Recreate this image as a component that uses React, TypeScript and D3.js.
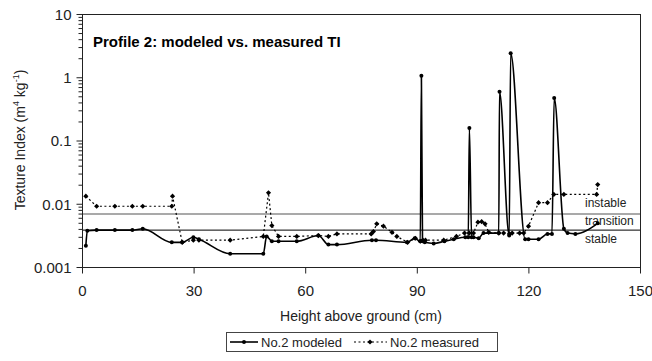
import React from "react";
import * as d3 from "d3";

const modeledX = [0.9, 1.3, 3.8, 8.7, 13.4, 16.2, 24.0, 26.8, 29.8, 31.3, 39.7, 48.6, 49.5, 50.9, 52.7, 57.6, 63.4, 66.1, 68.4, 77.8, 78.9, 87.2, 89.3, 90.8, 91.1, 91.4, 92.0, 94.4, 97.3, 99.8, 102.9, 103.7, 104.0, 104.6, 105.1, 106.5, 107.8, 111.9, 112.1, 114.7, 115.1, 119.0, 119.9, 122.6, 125.0, 126.2, 126.8, 129.4, 130.4, 132.5, 138.5];
const modeledY = [0.0022, 0.0038, 0.0039, 0.0039, 0.0039, 0.0041, 0.0025, 0.0025, 0.0030, 0.0028, 0.00165, 0.00165, 0.0031, 0.0026, 0.0026, 0.0026, 0.0032, 0.0023, 0.0023, 0.0027, 0.0027, 0.0025, 0.0029, 0.0026, 1.08, 0.0026, 0.0025, 0.0024, 0.0026, 0.0028, 0.0030, 0.0030, 0.16, 0.0030, 0.0030, 0.0029, 0.0035, 0.0035, 0.60, 0.0032, 2.45, 0.0028, 0.0028, 0.0028, 0.0034, 0.0034, 0.48, 0.0041, 0.0035, 0.0034, 0.0050];

const measuredX = [0.9, 3.8, 8.7, 13.4, 16.2, 24.0, 24.2, 26.8, 29.8, 31.3, 39.7, 48.6, 50.0, 50.9, 52.7, 57.6, 63.4, 66.1, 68.4, 77.6, 78.2, 79.1, 80.9, 83.2, 84.5, 87.4, 89.5, 90.8, 91.5, 92.2, 97.1, 100.5, 102.7, 104.0, 105.1, 106.3, 107.3, 108.2, 109.2, 111.9, 113.2, 114.8, 115.5, 117.5, 118.6, 119.9, 122.6, 125.0, 126.7, 129.4, 138.2, 138.5];
const measuredY = [0.0134, 0.0093, 0.0093, 0.0093, 0.0093, 0.0093, 0.0134, 0.0025, 0.0027, 0.0027, 0.0027, 0.0031, 0.0152, 0.0046, 0.0031, 0.0031, 0.0032, 0.0031, 0.0034, 0.0034, 0.0037, 0.0049, 0.0045, 0.0036, 0.0031, 0.0025, 0.0029, 0.0026, 0.0027, 0.0027, 0.0027, 0.0031, 0.0035, 0.0035, 0.0035, 0.0052, 0.0053, 0.0049, 0.0036, 0.0035, 0.0035, 0.0034, 0.0035, 0.0035, 0.0035, 0.0045, 0.0106, 0.0106, 0.0143, 0.0143, 0.0143, 0.0205];

const xTicks = [0, 30, 60, 90, 120, 150];
const yTicks = [0.001, 0.01, 0.1, 1, 10];
const yTickLabels = ["0.001", "0.01", "0.1", "1", "10"];
const thresholdValues = [0.007, 0.0039];
const zoneLabels = ["instable", "transition", "stable"];
const seriesNames = ["No.2 modeled", "No.2 measured"];
const titleText = "Profile 2: modeled vs. measured TI";
const xTitle = "Height above ground (cm)";

const FONT = "'Liberation Sans', Arial, sans-serif";

export default function App() {
  const W = 652, H = 361;
  const left = 82.5, right = 640.5, top = 14.5, bottom = 267.5;
  const x = d3.scaleLinear().domain([0, 150]).range([left, right]);
  const y = d3.scaleLog().domain([0.001, 10]).range([bottom, top]);

  const modeled = modeledX.map((v, i) => [v, modeledY[i]] as [number, number]);
  const measured = measuredX.map((v, i) => [v, measuredY[i]] as [number, number]);

  const lineM = d3.line<[number, number]>().x(d => x(d[0])).y(d => y(d[1])).curve(d3.curveMonotoneX);
  const lineS = d3.line<[number, number]>().x(d => x(d[0])).y(d => y(d[1]));

  const minor: number[] = [];
  [0.001, 0.01, 0.1, 1].forEach(d => { for (let k = 2; k <= 9; k++) minor.push(d * k); });

  const diamond = (cx: number, cy: number, s: number) => `M${cx},${cy - s}L${cx + s},${cy}L${cx},${cy + s}L${cx - s},${cy}Z`;

  const zoneY = [206.5, 225, 242.5];

  return (
    <svg width={W} height={H} style={{ position: "absolute", left: 0, top: 0, background: "#fff" }} fontFamily={FONT}>
      <rect x={0} y={0} width={W} height={H} fill="#fff" />
      {/* threshold lines */}
      <line x1={left} x2={right} y1={y(thresholdValues[0])} y2={y(thresholdValues[0])} stroke="#8c8c8c" strokeWidth={1.5} />
      <line x1={left} x2={right} y1={y(thresholdValues[1])} y2={y(thresholdValues[1])} stroke="#000" strokeWidth={1} />
      {/* frame */}
      <rect x={left} y={top} width={right - left} height={bottom - top} fill="none" stroke="#222" strokeWidth={1} />
      {/* y ticks */}
      {minor.map((v, i) => (
        <line key={"mn" + i} x1={left - 4} x2={left} y1={y(v)} y2={y(v)} stroke="#222" strokeWidth={1} />
      ))}
      {yTicks.map((v, i) => (
        <g key={"yt" + i}>
          <line x1={left - 6} x2={left} y1={y(v)} y2={y(v)} stroke="#222" strokeWidth={1} />
          <text x={left - 11} y={y(v)} dy="0.36em" textAnchor="end" fontSize={15} fill="#222">{yTickLabels[i]}</text>
        </g>
      ))}
      {/* x ticks */}
      {xTicks.map((v, i) => (
        <g key={"xt" + i}>
          <line x1={x(v)} x2={x(v)} y1={bottom} y2={bottom + 6} stroke="#222" strokeWidth={1} />
          <text x={x(v)} y={296} textAnchor="middle" fontSize={15} fill="#222">{v}</text>
        </g>
      ))}
      {/* axis titles */}
      <text x={361} y={321} textAnchor="middle" fontSize={14} fill="#222">{xTitle}</text>
      <text transform="translate(25,140) rotate(-90)" textAnchor="middle" fontSize={14} fill="#222">
        Texture Index (m<tspan fontSize={9} dy={-6}>4</tspan><tspan dy={6}> kg</tspan><tspan fontSize={9} dy={-6}>-1</tspan><tspan dy={6}>)</tspan>
      </text>
      {/* title */}
      <text x={93} y={47} fontSize={15} fontWeight="bold" fill="#000">{titleText}</text>
      {/* zone labels */}
      {zoneLabels.map((t, i) => (
        <text key={"z" + i} x={585} y={zoneY[i]} fontSize={12} fill="#222">{t}</text>
      ))}
      {/* measured series */}
      <path d={lineS(measured) || ""} fill="none" stroke="#000" strokeWidth={1.2} strokeDasharray="2 2.5" />
      {measured.map((d, i) => (
        <path key={"ms" + i} d={diamond(x(d[0]), y(d[1]), 2.6)} fill="#000" />
      ))}
      {/* modeled series */}
      <path d={lineM(modeled) || ""} fill="none" stroke="#000" strokeWidth={1.6} />
      {modeled.map((d, i) => (
        <circle key={"md" + i} cx={x(d[0])} cy={y(d[1])} r={2} fill="#000" />
      ))}
      {/* legend */}
      <rect x={226.5} y={332.5} width={271} height={19} fill="#fff" stroke="#444" strokeWidth={1} />
      <line x1={230} x2={258} y1={342} y2={342} stroke="#000" strokeWidth={1.6} />
      <circle cx={244} cy={342} r={2} fill="#000" />
      <text x={261} y={346.5} fontSize={13} fill="#222">{seriesNames[0]}</text>
      <line x1={354} x2={387} y1={342} y2={342} stroke="#000" strokeWidth={1.2} strokeDasharray="2 2.5" />
      <path d={diamond(370, 342, 2.6)} fill="#000" />
      <text x={390} y={346.5} fontSize={13} fill="#222">{seriesNames[1]}</text>
    </svg>
  );
}
